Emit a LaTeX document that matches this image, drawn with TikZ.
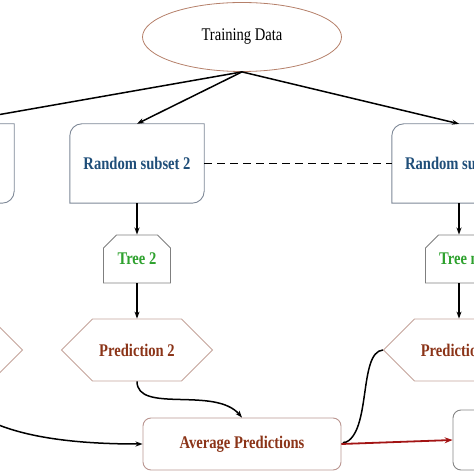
\documentclass[tikz,border=0pt]{standalone}
\usepackage{fontspec}
\setmainfont{Liberation Serif}[FakeStretch=0.82]
\usetikzlibrary{arrows.meta, shapes.geometric, shapes.misc, shapes.symbols}

\begin{document}
\fontsize{17.8}{20}\selectfont
\begin{tikzpicture}[x=1pt, y=1pt]

\definecolor{ellbrd}{HTML}{B5806A}
\definecolor{subbrd}{HTML}{7D8796}
\definecolor{subtxt}{HTML}{1F4E79}
\definecolor{treebrd}{HTML}{7F7F7F}
\definecolor{treetxt}{HTML}{2EA12E}
\definecolor{predbrd}{HTML}{C4A49C}
\definecolor{predtxt}{HTML}{8B3418}
\definecolor{avgbrd}{HTML}{B99590}
\definecolor{finbrd}{HTML}{858585}
\definecolor{outred}{HTML}{A31414}

\tikzset{
  data/.style={ellipse, draw=ellbrd, line width=0.8pt, minimum width=199pt, minimum height=69pt, inner sep=0pt},
  subset/.style={minimum width=134pt, minimum height=79pt, inner sep=0pt, text=subtxt, font=\bfseries},
  subline/.style={draw=subbrd, line width=0.9pt},
  tree/.style={chamfered rectangle, chamfered rectangle corners={north west, north east},
    chamfered rectangle xsep=5pt, chamfered rectangle ysep=8pt, draw=treebrd, line width=0.9pt,
    minimum width=67pt, minimum height=48pt, inner sep=0pt, text=treetxt, font=\bfseries},
  pred/.style={signal, signal to=west and east, signal pointer angle=90, draw=predbrd, line width=0.8pt,
    minimum width=151pt, minimum height=62pt, inner sep=0pt, text=predtxt, font=\bfseries},
  avg/.style={rectangle, rounded corners=8pt, draw=avgbrd, line width=0.9pt, minimum width=198pt,
    minimum height=52pt, text=predtxt, font=\bfseries},
  final/.style={rectangle, rounded corners=8pt, draw=finbrd, line width=0.9pt, minimum width=110pt, minimum height=60pt},
  link/.style={-{Stealth[length=7pt, width=5pt]}, line width=1.5pt},
  plain/.style={line width=1.5pt},
  dashlink/.style={line width=1.8pt, dash pattern=on 8pt off 5pt},
  outlink/.style={-{Stealth[length=8pt, width=6pt]}, line width=1.8pt, outred}
}

\useasboundingbox (0,0) rectangle (474,474);
\clip (0,0) rectangle (474,474);

%top
\node[data] (data) at (242,437) {Training Data};

%subsets
\node[subset] (s1) at (-53,310.5) {};
\node[subset] (s2) at (137,310.5) {Random subset 2};
\node[subset] (sn) at (459,310.5) {Random subset n};
\foreach \n in {s1,s2,sn}
  \draw[subline] (\n.south west) -- ([yshift=-12pt]\n.north west)
    arc[start angle=180, end angle=90, radius=12pt] -- (\n.north east)
    -- ([yshift=12pt]\n.south east) arc[start angle=0, end angle=-90, radius=12pt] -- cycle;

\draw[plain] (data.south) -- (s1.north);
\draw[link] (data.south) -- (s2.north);
\draw[link] (data.south) -- (sn.north);
\draw[dashlink] (s2.east) -- (sn.west);

%trees
\node[tree] (t2) at (137,215) {Tree 2};
\node[tree] (tn) at (459,215) {Tree n};
\draw[link] (s2.south) -- (t2.north);
\draw[link] (sn.south) -- (tn.north);

%predictions
\node[pred] (p1) at (-53,124) {};
\node[pred] (p2) at (137,124) {Prediction 2};
\node[pred] (pn) at (459,124) {Prediction n};
\draw[link] (t2.south) -- (p2.north);
\draw[link] (tn.south) -- (pn.north);

%average
\node[avg] (avg) at (242,30) {Average Predictions};
\node[final] (fin) at (508,34) {};

\draw[link] (p1.south) .. controls (-30,40) and (60,30) .. (avg.west);
\draw[link] (p2.south) .. controls (137,60) and (215,88) .. (avg.north);
\draw[-{Stealth[length=4pt, width=4pt]}, line width=1.5pt] (pn.west) .. controls (358,122) and (372,40) .. (avg.east);
\draw[outlink] (avg.east) -- (fin.west);
\end{tikzpicture}
\end{document}
